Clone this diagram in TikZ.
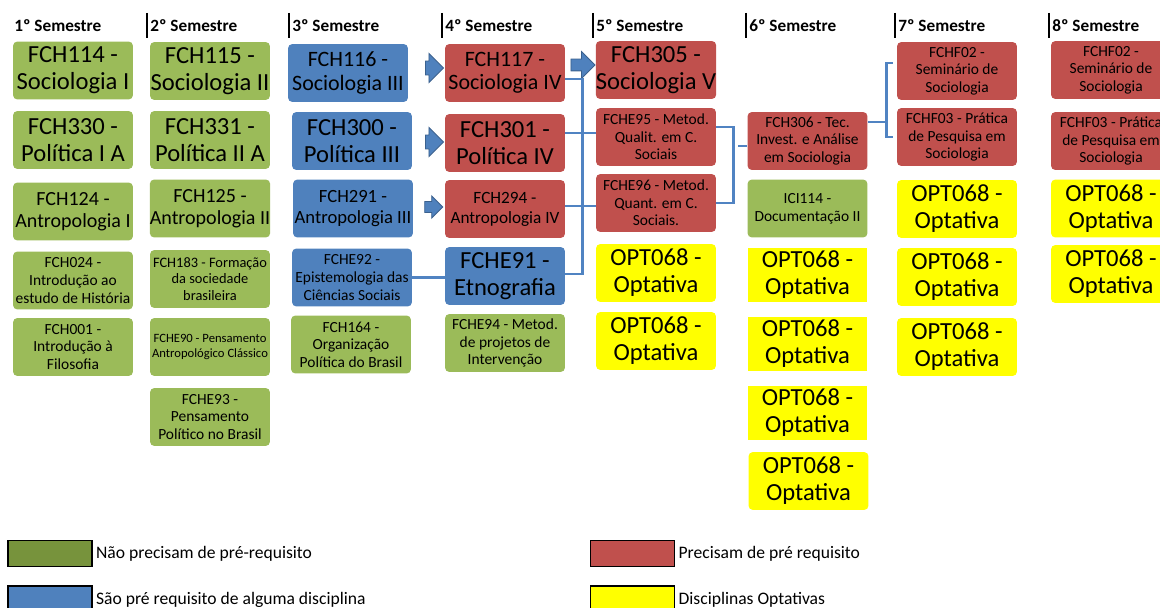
\documentclass[tikz,border=0pt]{standalone}
\usepackage{fontspec}
\setmainfont{Carlito}
\usetikzlibrary{positioning,shapes.arrows}

\definecolor{greenc}{HTML}{9BBB59}
\definecolor{bluec}{HTML}{4F81BD}
\definecolor{redc}{HTML}{C0504D}
\definecolor{optc}{HTML}{FFFF00}
\definecolor{linkc}{HTML}{5083C2}
\definecolor{legreen}{HTML}{77933C}

\tikzset{
  course/.style={rounded corners=2.5pt, minimum width=2.4cm, minimum height=1.16cm,
    align=center, inner sep=0pt, text=black},
  free/.style={course, fill=greenc},
  prereq/.style={course, fill=bluec},
  needs/.style={course, fill=redc},
  optional/.style={course, fill=optc},
  big/.style={font=\fontsize{14}{15.4}\selectfont},
  bigger/.style={font=\fontsize{12.5}{13.3}\selectfont},
  mid/.style={font=\fontsize{11.4}{12.8}\selectfont},
  small/.style={font=\fontsize{8.8}{10}\selectfont},
  tiny/.style={font=\fontsize{7.2}{8.2}\selectfont},
  semester/.style={anchor=west, inner sep=0pt, font=\bfseries\fontsize{9.8}{11}\selectfont},
  link/.style={draw=linkc, line width=1.7pt},
  blockarrow/.style={single arrow, fill=bluec, draw=bluec!75!black, line width=0.5pt,
    minimum height=0.36cm, minimum width=0.58cm, single arrow head extend=0.15cm,
    inner xsep=0pt, inner ysep=0.13cm},
  legbox/.style={draw=black, line width=0.9pt, minimum width=1.68cm, minimum height=0.52cm, inner sep=0pt},
  legtext/.style={anchor=west, inner sep=0pt, font=\fontsize{10}{12}\selectfont}
}

\begin{document}
\begin{tikzpicture}[x=0.02cm, y=-0.02cm]
  \clip (0,0) rectangle (1160,608);

  % semester headers
  \node[semester] (sem1) at (14,26) {1º Semestre};
  \draw[line width=0.8pt] (147,13) -- (147,38);
  \node[semester] (sem2) at (150,26) {2º Semestre};
  \draw[line width=0.8pt] (289,13) -- (289,38);
  \node[semester] (sem3) at (292,26) {3º Semestre};
  \draw[line width=0.8pt] (442,13) -- (442,38);
  \node[semester] (sem4) at (445,26) {4º Semestre};
  \draw[line width=0.8pt] (593,13) -- (593,38);
  \node[semester] (sem5) at (596,26) {5º Semestre};
  \draw[line width=0.8pt] (746,13) -- (746,38);
  \node[semester] (sem6) at (749,26) {6º Semestre};
  \draw[line width=0.8pt] (895,13) -- (895,38);
  \node[semester] (sem7) at (898,26) {7º Semestre};
  \draw[line width=0.8pt] (1049,13) -- (1049,38);
  \node[semester] (sem8) at (1052,26) {8º Semestre};

  % 1st semester
  \node[free, big] (fch114) at (73,70.5) {FCH114 -\\Sociologia I};
  \node[free, big] (fch330) at (73,140) {FCH330 -\\Política I A};
  \node[free, mid] (fch124) at (73,211.5) {FCH124 -\\Antropologia I};
  \node[free, small] (fch024) at (73,280.5) {FCH024 -\\Introdução ao\\estudo de História};
  \node[free, small] (fch001) at (73,347) {FCH001 -\\Introdução à\\Filosofia};

  % 2nd semester
  \node[free, big] (fch115) at (210,71) {FCH115 -\\Sociologia II};
  \node[free, big] (fch331) at (210,140) {FCH331 -\\Política II A};
  \node[free, mid] (fch125) at (210,208.5) {FCH125 -\\Antropologia II};
  \node[free, font=\fontsize{8.2}{9.4}\selectfont] (fch183) at (210,279) {FCH183 - Formação\\da sociedade\\brasileira};
  \node[free, tiny] (fche90) at (210,347) {FCHE90 - Pensamento\\Antropológico Clássico};
  \node[free, small] (fche93) at (210,417) {FCHE93 -\\Pensamento\\Político no Brasil};

  % 3rd semester
  \node[prereq, bigger] (fch116) at (348,73) {FCH116 -\\Sociologia III};
  \node[prereq, big] (fch300) at (352,141) {FCH300 -\\Política III};
  \node[prereq, font=\fontsize{10.6}{11.8}\selectfont] (fch291) at (353,208.5) {FCH291 -\\Antropologia III};
  \node[prereq, small] (fche92) at (352,277.5) {FCHE92 -\\Epistemologia das\\Ciências Sociais};
  \node[free, small] (fch164) at (351,344.5) {FCH164 -\\Organização\\Política do Brasil};

  % 4th semester
  \node[needs, bigger] (fch117) at (505,73) {FCH117 -\\Sociologia IV};
  \node[needs, big] (fch301) at (505,143) {FCH301 -\\Política IV};
  \node[needs, font=\fontsize{9.8}{11.4}\selectfont] (fch294) at (505,209) {FCH294 -\\Antropologia IV};
  \node[prereq, big] (fche91) at (505,276) {FCHE91 -\\Etnografia};
  \node[free, small] (fche94) at (505,343) {FCHE94 - Metod.\\de projetos de\\Intervenção};

  % 5th semester
  \node[needs, big] (fch305) at (656,70) {FCH305 -\\Sociologia V};
  \node[needs, small] (fche95) at (656,137) {FCHE95 - Metod.\\Qualit. em C.\\Sociais};
  \node[needs, small] (fche96) at (656,203) {FCHE96 - Metod.\\Quant. em C.\\Sociais.};
  \node[optional, big] (opt5a) at (656,273) {OPT068 -\\Optativa};
  \node[optional, big] (opt5b) at (656,341) {OPT068 -\\Optativa};

  % 6th semester
  \node[needs, small] (fch306) at (807.5,141) {FCH306 - Tec.\\Invest. e Análise\\em Sociologia};
  \node[free, small] (ici114) at (807.5,208.5) {ICI114 -\\Documentação II};
  \node[optional, big, sharp corners, minimum height=1.08cm] (opt6a) at (807.5,275) {OPT068 -\\Optativa};
  \node[optional, big, sharp corners, minimum height=1.08cm] (opt6b) at (807.5,344) {OPT068 -\\Optativa};
  \node[optional, big, sharp corners, minimum height=1.08cm] (opt6c) at (807.5,413) {OPT068 -\\Optativa};
  \node[optional, big] (opt6d) at (808.5,481) {OPT068 -\\Optativa};

  % 7th semester
  \node[needs, small] (fchf02) at (957,71) {FCHF02 -\\Seminário de\\Sociologia};
  \node[needs, small] (fchf03) at (957,137) {FCHF03 - Prática\\de Pesquisa em\\Sociologia};
  \node[optional, big] (opt7a) at (957,209) {OPT068 -\\Optativa};
  \node[optional, big] (opt7b) at (957,277) {OPT068 -\\Optativa};
  \node[optional, big] (opt7c) at (957,347) {OPT068 -\\Optativa};

  % 8th semester (runs past the right edge)
  \node[needs, small] (fchf02b) at (1111,70) {FCHF02 -\\Seminário de\\Sociologia};
  \node[needs, small] (fchf03b) at (1111,141) {FCHF03 - Prática\\de Pesquisa em\\Sociologia};
  \node[optional, big] (opt8a) at (1111,208.5) {OPT068 -\\Optativa};
  \node[optional, big] (opt8b) at (1111,274) {OPT068 -\\Optativa};

  % block arrows
  \node[blockarrow] (arr1) at (431,68) {};
  \node[blockarrow] (arr2) at (431,142) {};
  \node[blockarrow, minimum width=0.44cm, inner ysep=0.1cm, single arrow head extend=0.11cm] (arr3) at (431,207) {};
  \node[blockarrow, minimum height=0.48cm, minimum width=0.5cm, inner ysep=0.11cm] (arr4) at (580,65) {};

  % connectors 4th -> 5th semester
  \draw[link] ([yshift=-0.12cm]fch117.east) -- ++(0.34cm,0) |- ([yshift=0.04cm]fche91.east);
  \coordinate (in95) at ([yshift=0.08cm]fche95.west);
  \draw[link] (fch301.east |- in95) -- (in95);
  \coordinate (in96) at ([yshift=-0.06cm]fche96.west);
  \draw[link] (fch294.east |- in96) -- (in96);
  \draw[link] (fche92.east) -- (fche92.east -| fche91.west);

  % connectors 5th -> 6th semester
  \draw[link] ([yshift=0.2cm]fche95.east) -- ++(0.34cm,0) |- (fche96.east);
  \draw[link] ([yshift=-0.1cm]fch306.west) -- ++(-0.18cm,0);

  % connectors 6th -> 7th semester
  \coordinate (top7) at ([xshift=-0.08cm, yshift=0.16cm]fchf02.west);
  \coordinate (bot7) at ([xshift=-0.08cm]fchf03.west);
  \draw[link] (top7) -- ++(-0.12cm,0) |- (bot7);
  \draw[link] ([yshift=0.38cm]fch306.east) -- ++(0.38cm,0);

  % legend
  \node[legbox, fill=legreen] (legfree) at (50,553.5) {};
  \node[legtext, right=0.06cm of legfree] (legfreetxt) {Não precisam de pré-requisito};
  \node[legbox, fill=bluec] (legprereq) at (50,599) {};
  \node[legtext, right=0.06cm of legprereq, yshift=-0.02cm] (legprereqtxt) {São pré requisito de alguma disciplina};
  \node[legbox, fill=redc] (legneeds) at (632.5,553.5) {};
  \node[legtext, right=0.06cm of legneeds] (legneedstxt) {Precisam de pré requisito};
  \node[legbox, fill=optc] (legopt) at (632.5,599) {};
  \node[legtext, right=0.06cm of legopt, yshift=-0.02cm] (legopttxt) {Disciplinas Optativas};
\end{tikzpicture}
\end{document}
